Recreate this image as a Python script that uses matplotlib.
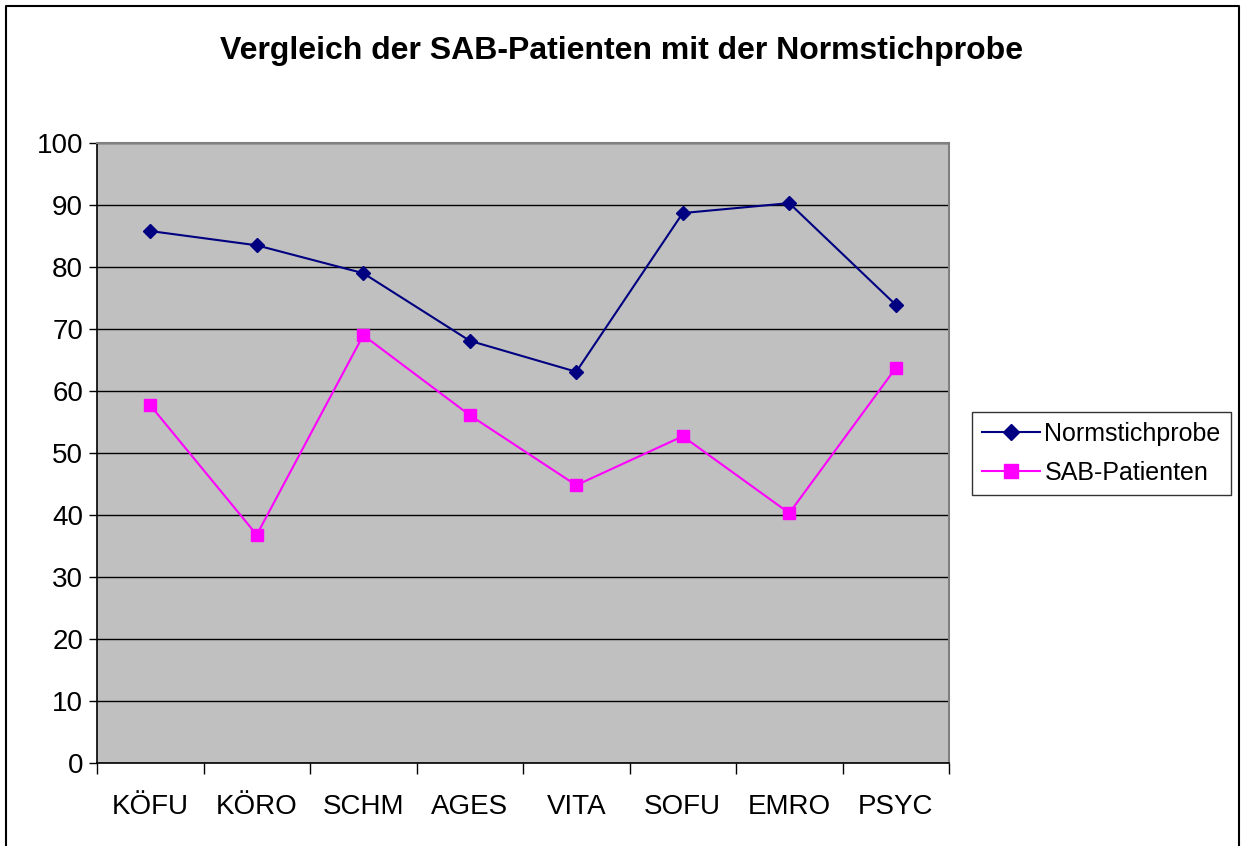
import matplotlib.pyplot as plt
from matplotlib.lines import Line2D

plt.rcParams['font.family'] = ['Liberation Sans', 'DejaVu Sans']

categories = ["KÖFU", "KÖRO", "SCHM", "AGES", "VITA", "SOFU", "EMRO", "PSYC"]
norm_values = [85.8, 83.5, 79.0, 68.1, 63.1, 88.7, 90.3, 73.9]
sab_values = [57.7, 36.8, 69.0, 56.1, 44.8, 52.7, 40.3, 63.7]

W, H = 1243, 846
fig = plt.figure(figsize=(W / 100, H / 100), dpi=100)

# outer chart border (open at the bottom, as in the reference crop)
xl, xr, yt = 6 / W, 1239 / W, 1 - 6 / H
fig.lines.append(Line2D([xl, xl, xr, xr], [0, yt, yt, 0],
                        transform=fig.transFigure, color='black', linewidth=1.5))

ax = fig.add_axes([97 / W, 83 / H, 852 / W, 620 / H])
ax.set_facecolor('#c0c0c0')

x = list(range(len(categories)))
ax.plot(x, norm_values, color='#000080', linewidth=1.5, marker='D',
        markersize=7.5, label='Normstichprobe', zorder=3)
ax.plot(x, sab_values, color='#ff00ff', linewidth=1.5, marker='s',
        markersize=9, label='SAB-Patienten', zorder=3)

ax.set_xlim(-0.5, len(categories) - 0.5)
ax.set_ylim(0, 100)
ax.set_yticks(range(0, 101, 10))
ax.yaxis.grid(True, color='black', linewidth=1)
ax.set_axisbelow(True)

ax.set_xticks(x)
ax.set_xticklabels(categories)
ax.set_xticks([i - 0.5 for i in range(len(categories) + 1)], minor=True)
ax.tick_params(axis='x', which='major', length=0, pad=22, labelsize=20)
ax.tick_params(axis='x', which='minor', length=8, width=1, direction='out')
ax.tick_params(axis='y', length=6, width=1, direction='out', labelsize=20, pad=4)

for side in ['top', 'right']:
    ax.spines[side].set_color('#808080')
    ax.spines[side].set_linewidth(1.5)
ax.spines['left'].set_linewidth(1.2)
ax.spines['bottom'].set_linewidth(1.2)

fig.text(622 / W, 1 - 51 / H, "Vergleich der SAB-Patienten mit der Normstichprobe",
         ha='center', va='center', fontsize=23, fontweight='bold')

leg = fig.legend(loc='center left', bbox_to_anchor=(972 / W, 1 - 453 / H),
                 fontsize=18, frameon=True, fancybox=False, edgecolor='black',
                 handlelength=2.3, handletextpad=0.2, borderpad=0.4,
                 labelspacing=0.6, borderaxespad=0, markerscale=1.1)
leg.get_frame().set_linewidth(1)

fig.savefig('out.png', dpi=100)
